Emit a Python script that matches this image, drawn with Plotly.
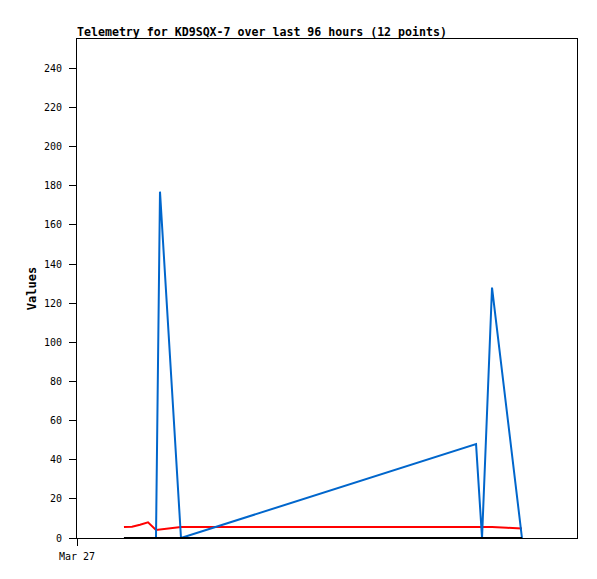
import plotly.graph_objects as go

times = [
    "2025-03-27 09:01", "2025-03-27 10:34", "2025-03-27 12:06", "2025-03-27 13:38",
    "2025-03-27 15:10", "2025-03-27 15:56", "2025-03-27 19:58", "2025-03-30 04:37",
    "2025-03-30 05:46", "2025-03-30 07:41", "2025-03-30 10:34", "2025-03-30 13:26",
]
red_values = [5.6, 5.8, 6.8, 8.0, 4.1, 4.4, 5.6, 5.6, 5.6, 5.6, 5.2, 4.8]
blue_values = [0, 0, 0, 0, 0, 177, 0, 48, 0, 128, 64, 0]
black_values = [0] * 12

y_ticks = list(range(0, 241, 20))
x_tick_vals = ["2025-03-27 00:00"]
x_tick_text = ["Mar 27"]
x_range = ["2025-03-27 00:00", "2025-03-31 00:00"]
y_range = [0, 255]

mono = "DejaVu Sans Mono"
W, H = 589, 571

fig = go.Figure()
fig.add_trace(go.Scatter(x=times, y=red_values, mode="lines",
                         line=dict(color="#ff0000", width=2), showlegend=False))
fig.add_trace(go.Scatter(x=times, y=blue_values, mode="lines",
                         line=dict(color="#0066cc", width=2), showlegend=False))
fig.add_trace(go.Scatter(x=times, y=black_values, mode="lines",
                         line=dict(color="#000000", width=2), showlegend=False))

fig.update_layout(
    width=W, height=H,
    margin=dict(l=69, r=20, t=31, b=41, autoexpand=False),
    paper_bgcolor="white", plot_bgcolor="white",
    title=dict(text="<b>Telemetry for KD9SQX-7 over last 96 hours (12 points)</b>",
               font=dict(family=mono, size=11.6, color="black"),
               x=0, xref="paper", xanchor="left",
               y=1 - 24 / H, yref="container", yanchor="middle"),
    font=dict(family=mono, size=10, color="black"),
)
fig.update_xaxes(type="date", range=x_range, tickvals=x_tick_vals, ticktext=x_tick_text,
                 ticks="outside", ticklen=7, tickcolor="black", showgrid=False,
                 zeroline=False, showline=True, linecolor="black", linewidth=1, mirror=True,
                 ticklabelstandoff=2,
                 tickfont=dict(family=mono, size=10, color="black"), fixedrange=True)
fig.update_yaxes(range=y_range, tickvals=y_ticks, ticks="outside", ticklen=7,
                 tickcolor="black", showgrid=False, zeroline=False, showline=True,
                 linecolor="black", linewidth=1, mirror=True, ticklabelstandoff=5,
                 tickfont=dict(family=mono, size=10, color="black"),
                 title=dict(text="<b>Values</b>", font=dict(family=mono, size=12, color="black"),
                            standoff=4))

fig.write_html("out.html")
